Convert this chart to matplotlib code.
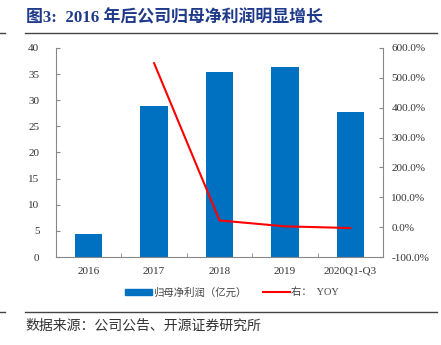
import matplotlib.pyplot as plt
from matplotlib.lines import Line2D
from matplotlib.patches import Patch
from matplotlib.ticker import FuncFormatter

# 归母净利润（亿元）及同比
years = ['2016', '2017', '2018', '2019', '2020Q1-Q3']
profit = [4.5, 28.9, 35.4, 36.4, 27.8]
yoy = [None, 549.0, 22.5, 2.8, -3.0]

serif = ['Liberation Serif', 'Noto Sans CJK SC']
cjk = ['Noto Sans CJK SC', 'Liberation Serif']
plt.rcParams['font.family'] = serif

fig = plt.figure(figsize=(4.41, 3.45), dpi=100, facecolor='w')
ax = fig.add_axes([0.127, 0.255, 0.7415, 0.606])

x = list(range(len(years)))
ax.bar(x, profit, width=0.42, color='#0070C0', zorder=2)
ax.set_xlim(-0.5, len(years) - 0.5)
ax.set_ylim(0, 40)
ax.set_yticks(range(0, 41, 5))
ax.set_xticks(x)
ax.set_xticklabels(years)
ax.set_xticks([i + 0.5 for i in x[:-1]], minor=True)
ax.tick_params(axis='x', which='major', length=0, pad=7, labelsize=8, colors='#333333')
ax.tick_params(axis='x', which='minor', direction='in', length=3, color='#888888')
ax.tick_params(axis='y', direction='in', length=3, color='#888888', labelsize=8,
               labelcolor='#333333', pad=12)
for s in ['top', 'right']:
    ax.spines[s].set_visible(False)
for s in ['left', 'bottom']:
    ax.spines[s].set_color('#888888')
    ax.spines[s].set_linewidth(0.8)

ax2 = ax.twinx()
xs = [i for i, v in zip(x, yoy) if v is not None]
ys = [v for v in yoy if v is not None]
ax2.plot(xs, ys, color='#FF0000', lw=1.5, zorder=3)
ax2.set_ylim(-100, 600)
ax2.set_yticks(range(-100, 601, 100))
ax2.yaxis.set_major_formatter(FuncFormatter(lambda v, p: f'{v:.1f}%'))
ax2.tick_params(axis='y', direction='in', length=3, color='#888888', labelsize=8,
                labelcolor='#333333', pad=6)
for s in ['top', 'left', 'bottom']:
    ax2.spines[s].set_visible(False)
ax2.spines['right'].set_color('#888888')
ax2.spines['right'].set_linewidth(0.8)

handles = [Patch(color='#0070C0'), Line2D([0], [0], color='#FF0000', lw=1.5)]
fig.legend(handles, ['归母净利润（亿元）', '右：  YOY'], loc='center', ncol=2,
           bbox_to_anchor=(0.525, 0.153), frameon=False, handlelength=2.6,
           handleheight=0.5, handletextpad=0.1, columnspacing=1.6,
           prop={'family': serif, 'size': 7.5}, labelcolor='#444444')

# 标题与分隔线
fig.text(0.06, 0.947, '图3:  2016 年后公司归母净利润明显增长', fontsize=12.2,
         fontweight='bold', color='#1F3A8A', family=serif, va='center')
for yy in [0.904, 0.096]:
    fig.add_artist(Line2D([0.057, 0.991], [yy, yy], color='#444444', lw=1.0))
    fig.add_artist(Line2D([0.0, 0.012], [yy, yy], color='#444444', lw=1.0))
fig.text(0.057, 0.055, '数据来源：公司公告、开源证券研究所', fontsize=10,
         color='#333333', family=cjk, va='center')

fig.savefig('out.png', dpi=100)
